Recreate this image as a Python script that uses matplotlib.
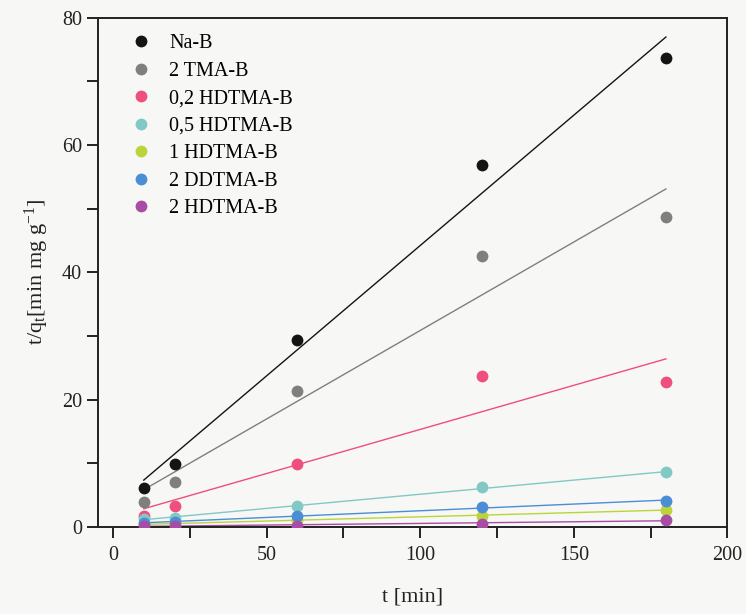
import numpy as np
import matplotlib
matplotlib.use('Agg')
import matplotlib.pyplot as plt
import matplotlib as mpl

mpl.rc('font', family='Liberation Serif', size=14.5)
mpl.rc('mathtext', fontset='custom', rm='Liberation Serif', it='Liberation Serif')
mpl.rc('axes', linewidth=1.4, edgecolor='#222222', labelcolor='#222222')
mpl.rc('xtick', color='#222222')
mpl.rc('ytick', color='#222222')

# sampling times [min]
t = [10, 20, 60, 120, 180]

# t/q_t values
series_names = ['Na-B', '2 TMA-B', '0,2 HDTMA-B', '0,5 HDTMA-B',
                '1 HDTMA-B', '2 DDTMA-B', '2 HDTMA-B']
na_b = [6.1, 9.9, 29.4, 56.9, 73.7]
tma_2 = [3.9, 7.1, 21.4, 42.6, 48.7]
hdtma_02 = [1.7, 3.3, 9.8, 23.7, 22.8]
hdtma_05 = [1.3, 1.4, 3.2, 6.2, 8.6]
hdtma_1 = [0.4, 0.5, 1.1, 1.7, 2.7]
ddtma_2 = [0.6, 0.8, 1.7, 3.1, 4.1]
hdtma_2 = [0.2, 0.2, 0.1, 0.5, 1.1]
series = [na_b, tma_2, hdtma_02, hdtma_05, hdtma_1, ddtma_2, hdtma_2]
colors = ['#141414', '#7f7f7f', '#ee4f7c', '#82c9c6',
          '#bcd43a', '#4b8ed6', '#a84ca6']

bg = '#f7f7f5'
fig = plt.figure(figsize=(7.46, 6.14), dpi=100, facecolor=bg)
ax = fig.add_axes([0.131, 0.142, 0.844, 0.829], facecolor=bg)

tt = np.array(t, dtype=float)
for name, y, c in zip(series_names, series, colors):
    # linear fit (pseudo-second-order plot)
    k, b = np.polyfit(tt, y, 1)
    ax.plot([tt[0], tt[-1]], [k * tt[0] + b, k * tt[-1] + b], color=c, lw=1.0, zorder=2)
    ax.plot(t, y, 'o', color=c, ms=8.5, mec='none', label=name, zorder=3)

ax.set_xlim(-5, 200)
ax.set_ylim(0, 80)
ax.set_xticks([0, 50, 100, 150, 200])
ax.set_xticks([25, 75, 125, 175], minor=True)
ax.set_yticks([0, 20, 40, 60, 80])
ax.set_yticks([10, 30, 50, 70], minor=True)
ax.tick_params(which='major', direction='out', length=8, width=1.4)
ax.tick_params(which='minor', direction='out', length=8, width=1.4)
ax.tick_params(axis='x', pad=6)

ax.set_xlabel('t [min]', fontsize=16, labelpad=16)
ax.set_ylabel(r't/q$_{\mathrm{t}}$[min mg g$^{\mathrm{-1}}$]', fontsize=16, labelpad=8)

leg = ax.legend(loc='upper left', frameon=False, handlelength=0.8, handletextpad=1.0,
                labelspacing=0.42, borderaxespad=0.4, bbox_to_anchor=(0.03, 1.0))

fig.savefig('out.png', dpi=100, facecolor=bg)
